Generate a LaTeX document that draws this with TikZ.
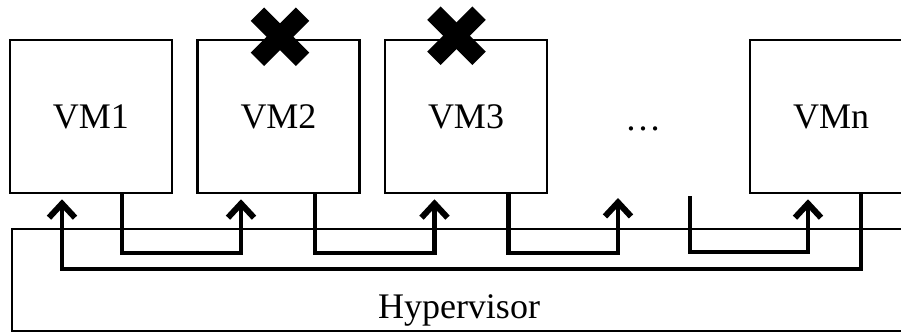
\documentclass[tikz,border=0pt]{standalone}
\usepackage{fontspec}
\setmainfont{Liberation Serif}
\usetikzlibrary{calc,positioning,arrows.meta}

\begin{document}
\begin{tikzpicture}[x=1pt,y=-1pt,font=\fontsize{36}{40}\selectfont,
  vmbox/.style={draw,line width=2.5pt,minimum width=162pt,minimum height=153pt,inner sep=0pt},
  link/.style={line width=4.3pt,-{Straight Barb[length=14pt,width=26pt,line width=6pt]}},fail/.style={line width=19pt}]
\useasboundingbox (0,0) rectangle (901,332);\clip (0,0) rectangle (901,332);
\node[draw,line width=2.5pt,minimum width=894pt,minimum height=102pt,inner sep=0pt] (hv) at (459,280) {};
\node[anchor=base] (hvlabel) at ($(hv.south)+(0,-14)$) {Hypervisor};
\node[vmbox] (vm1) at (91,116.5) {VM1};
\node[vmbox,right=23pt of vm1] (vm2) {VM2};
\node[vmbox,right=23pt of vm2] (vm3) {VM3};
\node[vmbox] (vmn) at (831,116.5) {VMn};
\node[anchor=base] (dots) at (643,130) {…};
\draw[link] ($(vmn.south)+(30,0)$) -- ++(0,75) -| ($(vm1.south)+(-29,5)$);
\draw[link] ($(vm1.south)+(31,0)$) -- ++(0,59) -| ($(vm2.south)+(-37.5,5)$);
\draw[link] ($(vm2.south)+(36.5,0)$) -- ++(0,59) -| ($(vm3.south)+(-31.5,5)$);
\draw[link] ($(vm3.south)+(42.5,0)$) -- ++(0,59) -| ($(dots.base)+(-25,68)$);
\draw[link] ($(dots.base)+(47,66)$) -- ++(0,56) -| ($(vmn.south)+(-23,5)$);
\coordinate (x2) at ($(vm2.north)+(1.5,-2)$);\coordinate (x3) at ($(vm3.north)+(-9.5,-3)$);
\foreach \c in {x2,x3}{
  \draw[fail] ($(\c)+(-22.6,-22.6)$) -- ($(\c)+(22.6,22.6)$);
  \draw[fail] ($(\c)+(-22.6,22.6)$) -- ($(\c)+(22.6,-22.6)$);
}
\end{tikzpicture}
\end{document}
